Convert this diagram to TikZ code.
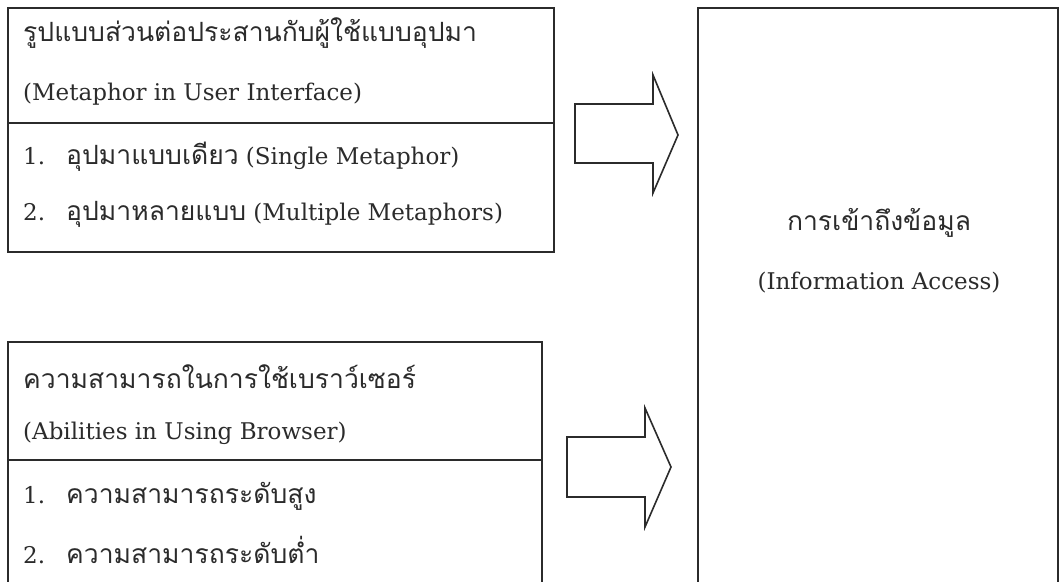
\documentclass[tikz,border=0pt]{standalone}
\usepackage{fontspec}
\setmainfont{DejaVu Serif}
\newfontfamily\thai[Script=Thai]{Loma}
\definecolor{ink}{HTML}{2B2B2B}
\newcommand{\enfont}{\fontsize{23}{26}\selectfont}
\newcommand{\thfont}{\thai\fontsize{26.5}{30}\selectfont}
\newcommand{\itemno}[1]{\makebox[43pt][l]{#1}}
\begin{document}
\begin{tikzpicture}[x=1pt,y=-1pt]
\tikzset{
  frame/.style={draw=ink, line width=1.4pt},
  blockarrow/.style={draw=ink, line width=1.6pt, line join=miter, fill=white},
  row/.style={anchor=west, inner sep=0pt, text=ink, font=\enfont},
  thairow/.style={anchor=west, inner sep=0pt, text=ink, font=\thfont},
  centre/.style={anchor=center, inner sep=0pt, text=ink},
}
\useasboundingbox (0,0) rectangle (1062,581);
\clip (0,0) rectangle (1062,581);
% top-left box
\draw[frame] (8,8) rectangle (554,252);
\draw[frame] (8,123) -- (554,123);
\node[thairow] (t1) at (23,33) {รูปแบบส่วนต่อประสานกับผู้ใช้แบบอุปมา};
\node[row] (t2) at (23,94) {(Metaphor in User Interface)};
\node[row] (t3) at (23,157) {\itemno{1.}{\thfont อุปมาแบบเดียว} (Single Metaphor)};
\node[row] (t4) at (23,214) {\itemno{2.}{\thfont อุปมาหลายแบบ} (Multiple Metaphors)};
% bottom-left box
\draw[frame] (8,590) -- (8,342) -- (542,342) -- (542,590);
\draw[frame] (8,460) -- (542,460);
\node[thairow] (b1) at (23,377) {ความสามารถในการใช้เบราว์เซอร์};
\node[row] (b2) at (23,433) {(Abilities in Using Browser)};
\node[row] (b3) at (23,496) {\itemno{1.}{\thfont ความสามารถระดับสูง}};
\node[row] (b4) at (23,550) {\itemno{2.}{\thfont ความสามารถระดับต่ำ}};
% right box
\draw[frame] (698,590) -- (698,8) -- (1058,8) -- (1058,590);
\node[centre, font=\thfont] (r1) at (879,223) {การเข้าถึงข้อมูล};
\node[centre, font=\enfont] (r2) at (879,283) {(Information Access)};
% block arrows
\draw[blockarrow] (575,104) -- (653,104) -- (653,75) -- (678,135) -- (653,193) -- (653,163) -- (575,163) -- cycle;
\draw[blockarrow] (567,437) -- (645,437) -- (645,408) -- (671,467) -- (645,527) -- (645,497) -- (567,497) -- cycle;
\end{tikzpicture}
\end{document}
